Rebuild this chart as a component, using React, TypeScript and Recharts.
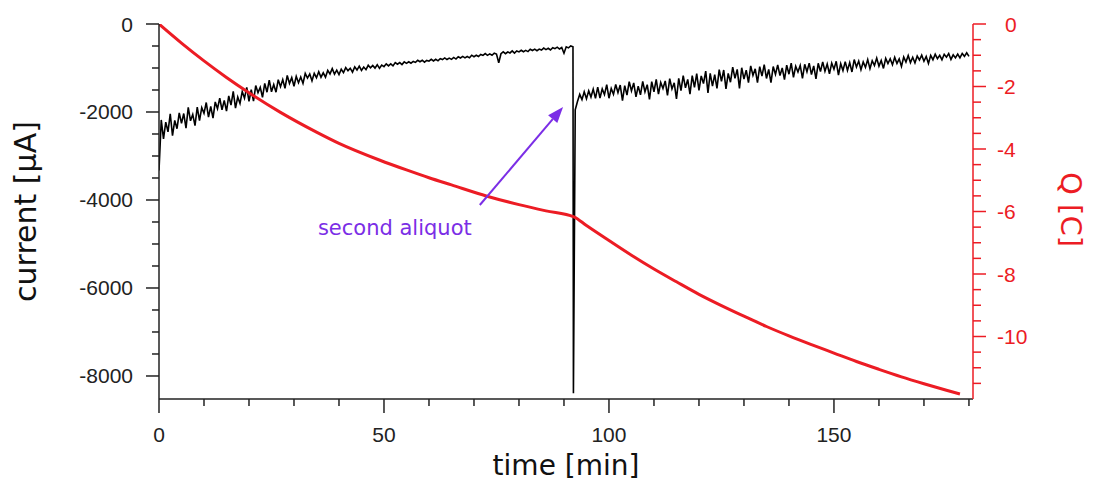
import { LineChart, Line, XAxis, YAxis, ReferenceLine } from 'recharts';

// current [µA], sampled every 0.5 min from t = 0.5 to 92.0 (first aliquot)
const seg1Current = [
  -2180, -2610, -2230, -2450, -2040, -2540, -2190, -2380, -2020, -2260,
  -2035, -2365, -1895, -2200, -2055, -2310, -1890, -2195, -1900, -2030,
  -1785, -2115, -1875, -2140, -1770, -1925, -1685, -1950, -1735, -1980,
  -1635, -1845, -1530, -1910, -1660, -1805, -1535, -1685, -1440, -1760,
  -1490, -1755, -1400, -1560, -1440, -1665, -1350, -1550, -1275, -1540,
  -1375, -1550, -1265, -1425, -1265, -1460, -1170, -1350, -1220, -1415,
  -1190, -1335, -1205, -1350, -1125, -1230, -1135, -1290, -1120, -1220,
  -1085, -1210, -1110, -1210, -1055, -1135, -1015, -1140, -1050, -1150,
  -1027, -1105, -990, -1060, -1005, -1095, -975, -1047, -957, -1056,
  -978, -1038, -938, -998, -942, -1003, -925, -1007, -935, -968,
  -905, -951, -905, -951, -877, -915, -877, -923, -861, -895,
  -858, -891, -852, -873, -824, -858, -824, -868, -828, -845,
  -804, -841, -803, -837, -787, -809, -771, -808, -776, -804,
  -760, -797, -744, -772, -737, -771, -739, -769, -709, -743,
  -710, -740, -693, -714, -673, -712, -680, -710, -663, -684,
  -880, -675, -634, -674, -636, -658, -611, -660, -613, -635,
  -597, -631, -599, -627, -574, -602, -571, -607, -570, -593,
  -548, -583, -552, -590, -538, -561, -527, -569, -535, -665,
  -518, -543, -500, -519,
];

// current [µA], sampled every 0.5 min from t = 92.5 to 180.0 (second aliquot)
const seg2Current = [
  -1950, -1760, -1600, -1720, -1540, -1700, -1520, -1660, -1480, -1690,
  -1433, -1683, -1474, -1605, -1379, -1687, -1466, -1599, -1375, -1558,
  -1387, -1743, -1400, -1616, -1312, -1520, -1338, -1655, -1412, -1610,
  -1306, -1542, -1378, -1714, -1310, -1540, -1258, -1595, -1331, -1468,
  -1294, -1620, -1241, -1476, -1337, -1704, -1235, -1514, -1174, -1450,
  -1261, -1596, -1172, -1438, -1129, -1510, -1179, -1354, -1070, -1567,
  -1121, -1411, -1149, -1462, -1039, -1305, -1045, -1475, -1123, -1323,
  -979, -1236, -1031, -1464, -995, -1252, -1049, -1330, -952, -1168,
  -1018, -1334, -970, -1186, -922, -1238, -1034, -1330, -968, -1145,
  -929, -1173, -999, -1262, -936, -1141, -891, -1211, -961, -1090,
  -942, -1235, -916, -1087, -890, -1149, -952, -1246, -892, -1081,
  -861, -1076, -912, -1132, -888, -1028, -848, -1164, -903, -1059,
  -856, -1055, -876, -1090, -809, -978, -843, -1041, -862, -987,
  -808, -1015, -835, -943, -775, -958, -828, -1010, -780, -900,
  -790, -928, -758, -896, -792, -963, -749, -865, -717, -877,
  -757, -885, -728, -818, -708, -846, -737, -896, -712, -812,
  -688, -788, -712, -812, -688, -754, -672, -806, -700, -770,
  -683, -770, -668, -735, -654, -735,
];

const startSpike = { t: 0, i: -3330 };
const dropSpike = { t: 92.1, i: -8390 };

// charge Q [C]
const qTime = [0, 5, 10, 15, 20, 26.9, 35, 40, 49.1, 55, 60, 65, 72.9, 80, 86, 92.2, 95, 100, 105, 110, 115, 120, 125, 130, 135, 140, 145, 150, 155, 160, 165, 170, 175, 178];
const qValue = [0, -0.61, -1.18, -1.71, -2.2, -2.82, -3.46, -3.82, -4.36, -4.67, -4.92, -5.15, -5.51, -5.78, -5.98, -6.17, -6.45, -6.93, -7.4, -7.84, -8.25, -8.65, -9.01, -9.35, -9.68, -9.98, -10.26, -10.53, -10.8, -11.05, -11.29, -11.51, -11.72, -11.84];

const xTicks = [0, 10, 20, 30, 40, 50, 60, 70, 80, 90, 100, 110, 120, 130, 140, 150, 160, 170, 180];
const currentTicks = [0, -500, -1000, -1500, -2000, -2500, -3000, -3500, -4000, -4500, -5000, -5500, -6000, -6500, -7000, -7500, -8000];
const qTicks = [0, -0.5, -1, -1.5, -2, -2.5, -3, -3.5, -4, -4.5, -5, -5.5, -6, -6.5, -7, -7.5, -8, -8.5, -9, -9.5, -10, -10.5, -11, -11.5];

// arrow: tail -> tip, in (time, current)
const arrowTail = { t: 71.3, i: -4114 };
const arrowTip = { t: 89.8, i: -1886 };

const AXIS = '#222';
const RED = '#ec1c24';
const PURPLE = '#7b2ee6';
const TICK_FONT = '"Liberation Sans", Arial, sans-serif';
const TITLE_FONT = '"DejaVu Sans", sans-serif';

const currentData = [
  startSpike,
  ...seg1Current.map((i, k) => ({ t: 0.5 + k * 0.5, i })),
  dropSpike,
  ...seg2Current.map((i, k) => ({ t: 92.5 + k * 0.5, i })),
];
const chargeData = qTime.map((t, k) => ({ t, q: qValue[k] }));

const XTick = (props: any) => {
  const { x, y, payload } = props;
  const major = payload.value % 50 === 0;
  return (
    <g>
      <line x1={x} y1={y} x2={x} y2={y + (major ? 14 : 7)} stroke={AXIS} strokeWidth={1.5} />
      {major && (
        <text x={x} y={y + 43} textAnchor="middle" fontFamily={TICK_FONT} fontSize={21} fill={AXIS}>
          {payload.value}
        </text>
      )}
    </g>
  );
};

const LeftTick = (props: any) => {
  const { x, y, payload } = props;
  const major = payload.value % 2000 === 0;
  return (
    <g>
      <line x1={x} y1={y} x2={x - (major ? 13 : 7)} y2={y} stroke={AXIS} strokeWidth={1.5} />
      {major && (
        <text x={x - 26} y={y + 7.5} textAnchor="end" fontFamily={TICK_FONT} fontSize={21} fill={AXIS}>
          {payload.value}
        </text>
      )}
    </g>
  );
};

const RightTick = (props: any) => {
  const { x, y, payload } = props;
  const v = payload.value;
  const major = Math.abs(v % 2) < 1e-6;
  return (
    <g>
      <line x1={x} y1={y} x2={x + (major ? 13 : 8)} y2={y} stroke={RED} strokeWidth={1.5} />
      {major && (
        <text x={x + (v === 0 ? 32 : 24)} y={y + 7.5} textAnchor="start" fontFamily={TICK_FONT} fontSize={21} fill={RED}>
          {v}
        </text>
      )}
    </g>
  );
};

const Arrow = (props: any) => {
  const { x1, y1, x2, y2 } = props;
  const dx = x2 - x1;
  const dy = y2 - y1;
  const len = Math.sqrt(dx * dx + dy * dy);
  const ux = dx / len;
  const uy = dy / len;
  const hl = 16;
  const hw = 6;
  const bx = x2 - ux * hl;
  const by = y2 - uy * hl;
  return (
    <g>
      <line x1={x1} y1={y1} x2={bx} y2={by} stroke={PURPLE} strokeWidth={2} />
      <polygon
        points={`${x2},${y2} ${bx - uy * hw},${by + ux * hw} ${bx + uy * hw},${by - ux * hw}`}
        fill={PURPLE}
      />
      <text x={x1 - 85} y={y1 + 30} textAnchor="middle" fontFamily={TITLE_FONT} fontSize={21} fill={PURPLE}>
        second aliquot
      </text>
    </g>
  );
};

export default function App() {
  return (
    <div style={{ width: 1095, height: 488 }}>
      <style>{'body{margin:0}'}</style>
      <LineChart width={1095} height={488} margin={{ top: 24, right: 0, bottom: 0, left: 0 }}>
        <XAxis
          type="number"
          dataKey="t"
          domain={[0, 180.9]}
          allowDataOverflow
          ticks={xTicks}
          interval={0}
          tickSize={0}
          tickMargin={0}
          tickLine={false}
          tick={<XTick />}
          axisLine={{ stroke: AXIS, strokeWidth: 1.5 }}
          height={89}
          label={(p: any) => (
            <text
              x={p.viewBox.x + p.viewBox.width / 2}
              y={p.viewBox.y + 76}
              textAnchor="middle"
              fontFamily={TITLE_FONT}
              fontSize={28}
              fill="#111"
            >
              time [min]
            </text>
          )}
        />
        <YAxis
          yAxisId="cur"
          type="number"
          domain={[-8523, 0]}
          allowDataOverflow
          ticks={currentTicks}
          interval={0}
          tickSize={0}
          tickMargin={0}
          tickLine={false}
          tick={<LeftTick />}
          axisLine={{ stroke: AXIS, strokeWidth: 1.5 }}
          width={159}
          label={(p: any) => {
            const x = p.viewBox.x + 36;
            const y = p.viewBox.y + p.viewBox.height / 2;
            return (
              <text x={x} y={y} transform={`rotate(-90, ${x}, ${y})`} textAnchor="middle" fontFamily={TITLE_FONT} fontSize={30} fill="#111">
                current [μA]
              </text>
            );
          }}
        />
        <YAxis
          yAxisId="q"
          orientation="right"
          type="number"
          domain={[-12, 0]}
          allowDataOverflow
          ticks={qTicks}
          interval={0}
          tickSize={0}
          tickMargin={0}
          tickLine={false}
          tick={<RightTick />}
          axisLine={{ stroke: RED, strokeWidth: 1.5 }}
          width={122}
          label={(p: any) => {
            const x = p.viewBox.x + 88;
            const y = p.viewBox.y + p.viewBox.height / 2 - 2;
            return (
              <text x={x} y={y} transform={`rotate(90, ${x}, ${y})`} textAnchor="middle" fontFamily={TITLE_FONT} fontSize={29} fill={RED}>
                Q [C]
              </text>
            );
          }}
        />
        <Line
          yAxisId="cur"
          data={currentData}
          dataKey="i"
          type="linear"
          stroke="#000"
          strokeWidth={1.6}
          dot={false}
          isAnimationActive={false}
        />
        <Line
          yAxisId="q"
          data={chargeData}
          dataKey="q"
          type="monotone"
          stroke={RED}
          strokeWidth={3}
          dot={false}
          isAnimationActive={false}
        />
        <ReferenceLine
          yAxisId="cur"
          segment={[{ x: arrowTail.t, y: arrowTail.i }, { x: arrowTip.t, y: arrowTip.i }]}
          shape={<Arrow />}
        />
      </LineChart>
    </div>
  );
}
